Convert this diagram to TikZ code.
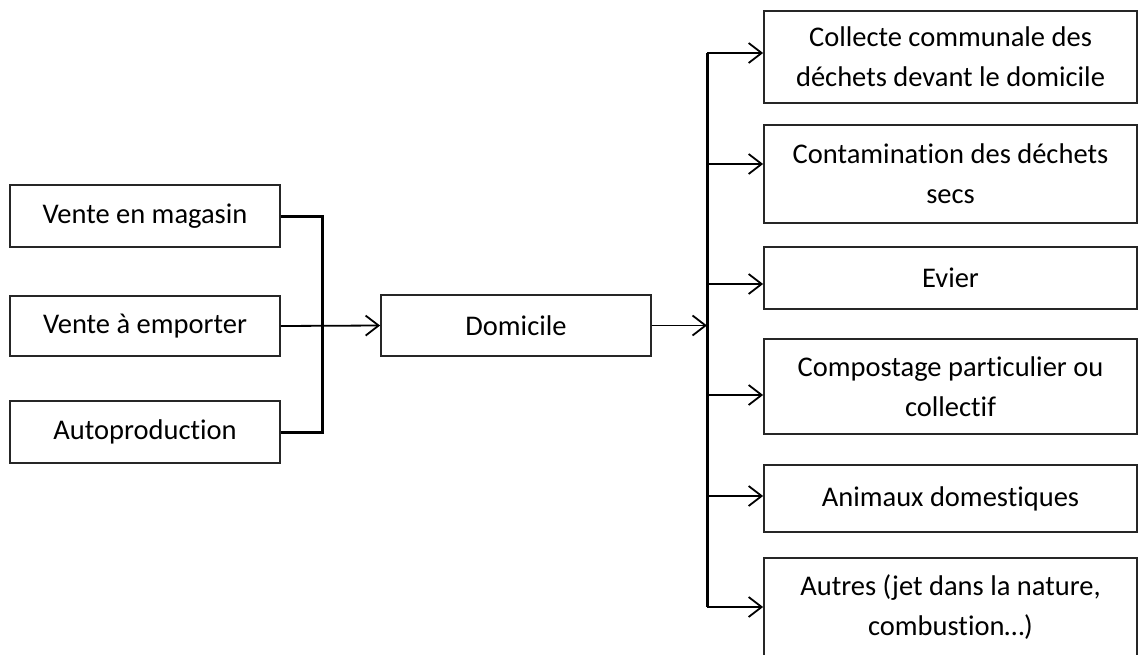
\documentclass[tikz,border=0pt]{standalone}
\usepackage{fontspec}
\setmainfont[RawFeature={-liga;-clig;-calt;-dlig}]{Carlito}
\usetikzlibrary{arrows.meta}

\begin{document}
\begin{tikzpicture}[x=1pt, y=-1pt,
  box/.style={draw=black!85, line width=1.8pt, minimum width=270pt, align=center, inner sep=0pt,
    font=\fontsize{28.5}{40}\selectfont},
  wbox/.style={box, minimum width=373pt},
  arr/.style={line width=1.8pt, -{Straight Barb[length=13pt, width=20pt, line width=1.8pt]}},
  bus/.style={line width=3pt}]

\useasboundingbox (0,0) rectangle (1139,655);

\node[box, minimum height=62pt] (mag) at (145,216) {Vente en magasin};
\node[box, minimum height=60pt] (emp) at (145,326) {Vente à emporter};
\node[box, minimum height=62pt] (auto) at (145,432) {Autoproduction};
\node[box, minimum height=61pt] (dom) at (516,325.5) {Domicile};

\node[wbox, minimum height=92pt] (c1) at (950.5,57) {Collecte communale des\\déchets devant le domicile};
\node[wbox, minimum height=98pt] (c2) at (950.5,174) {Contamination des déchets\\secs};
\node[wbox, minimum height=62pt] (c3) at (950.5,278) {Evier};
\node[wbox, minimum height=95pt] (c4) at (950.5,386.5) {Compostage particulier ou\\collectif};
\node[wbox, minimum height=67pt] (c5) at (950.5,498.5) {Animaux domestiques};
\node[wbox, minimum height=98pt] (c6) at (950.5,607) {Autres (jet dans la nature,\\combustion…)};

\coordinate (jl) at (322,0);
\coordinate (jr) at (707,0);

\draw[bus] (mag.east) -| (jl |- auto.east) -- (auto.east);
\draw[arr] (emp.east) -- (dom.west);
\draw[arr] (dom.east) -- (jr |- dom.east);

\foreach \n/\s in {c1/4,c2/10,c3/-6,c4/-8.5,c5/2.5,c6/0}
  \coordinate (t\n) at ([yshift=\s pt]\n.west);
\draw[bus] (jr |- tc1) -- (jr |- tc6);
\foreach \n in {c1,c2,c3,c4,c5,c6}
  \draw[arr] (jr |- t\n) -- (t\n);

\end{tikzpicture}
\end{document}
